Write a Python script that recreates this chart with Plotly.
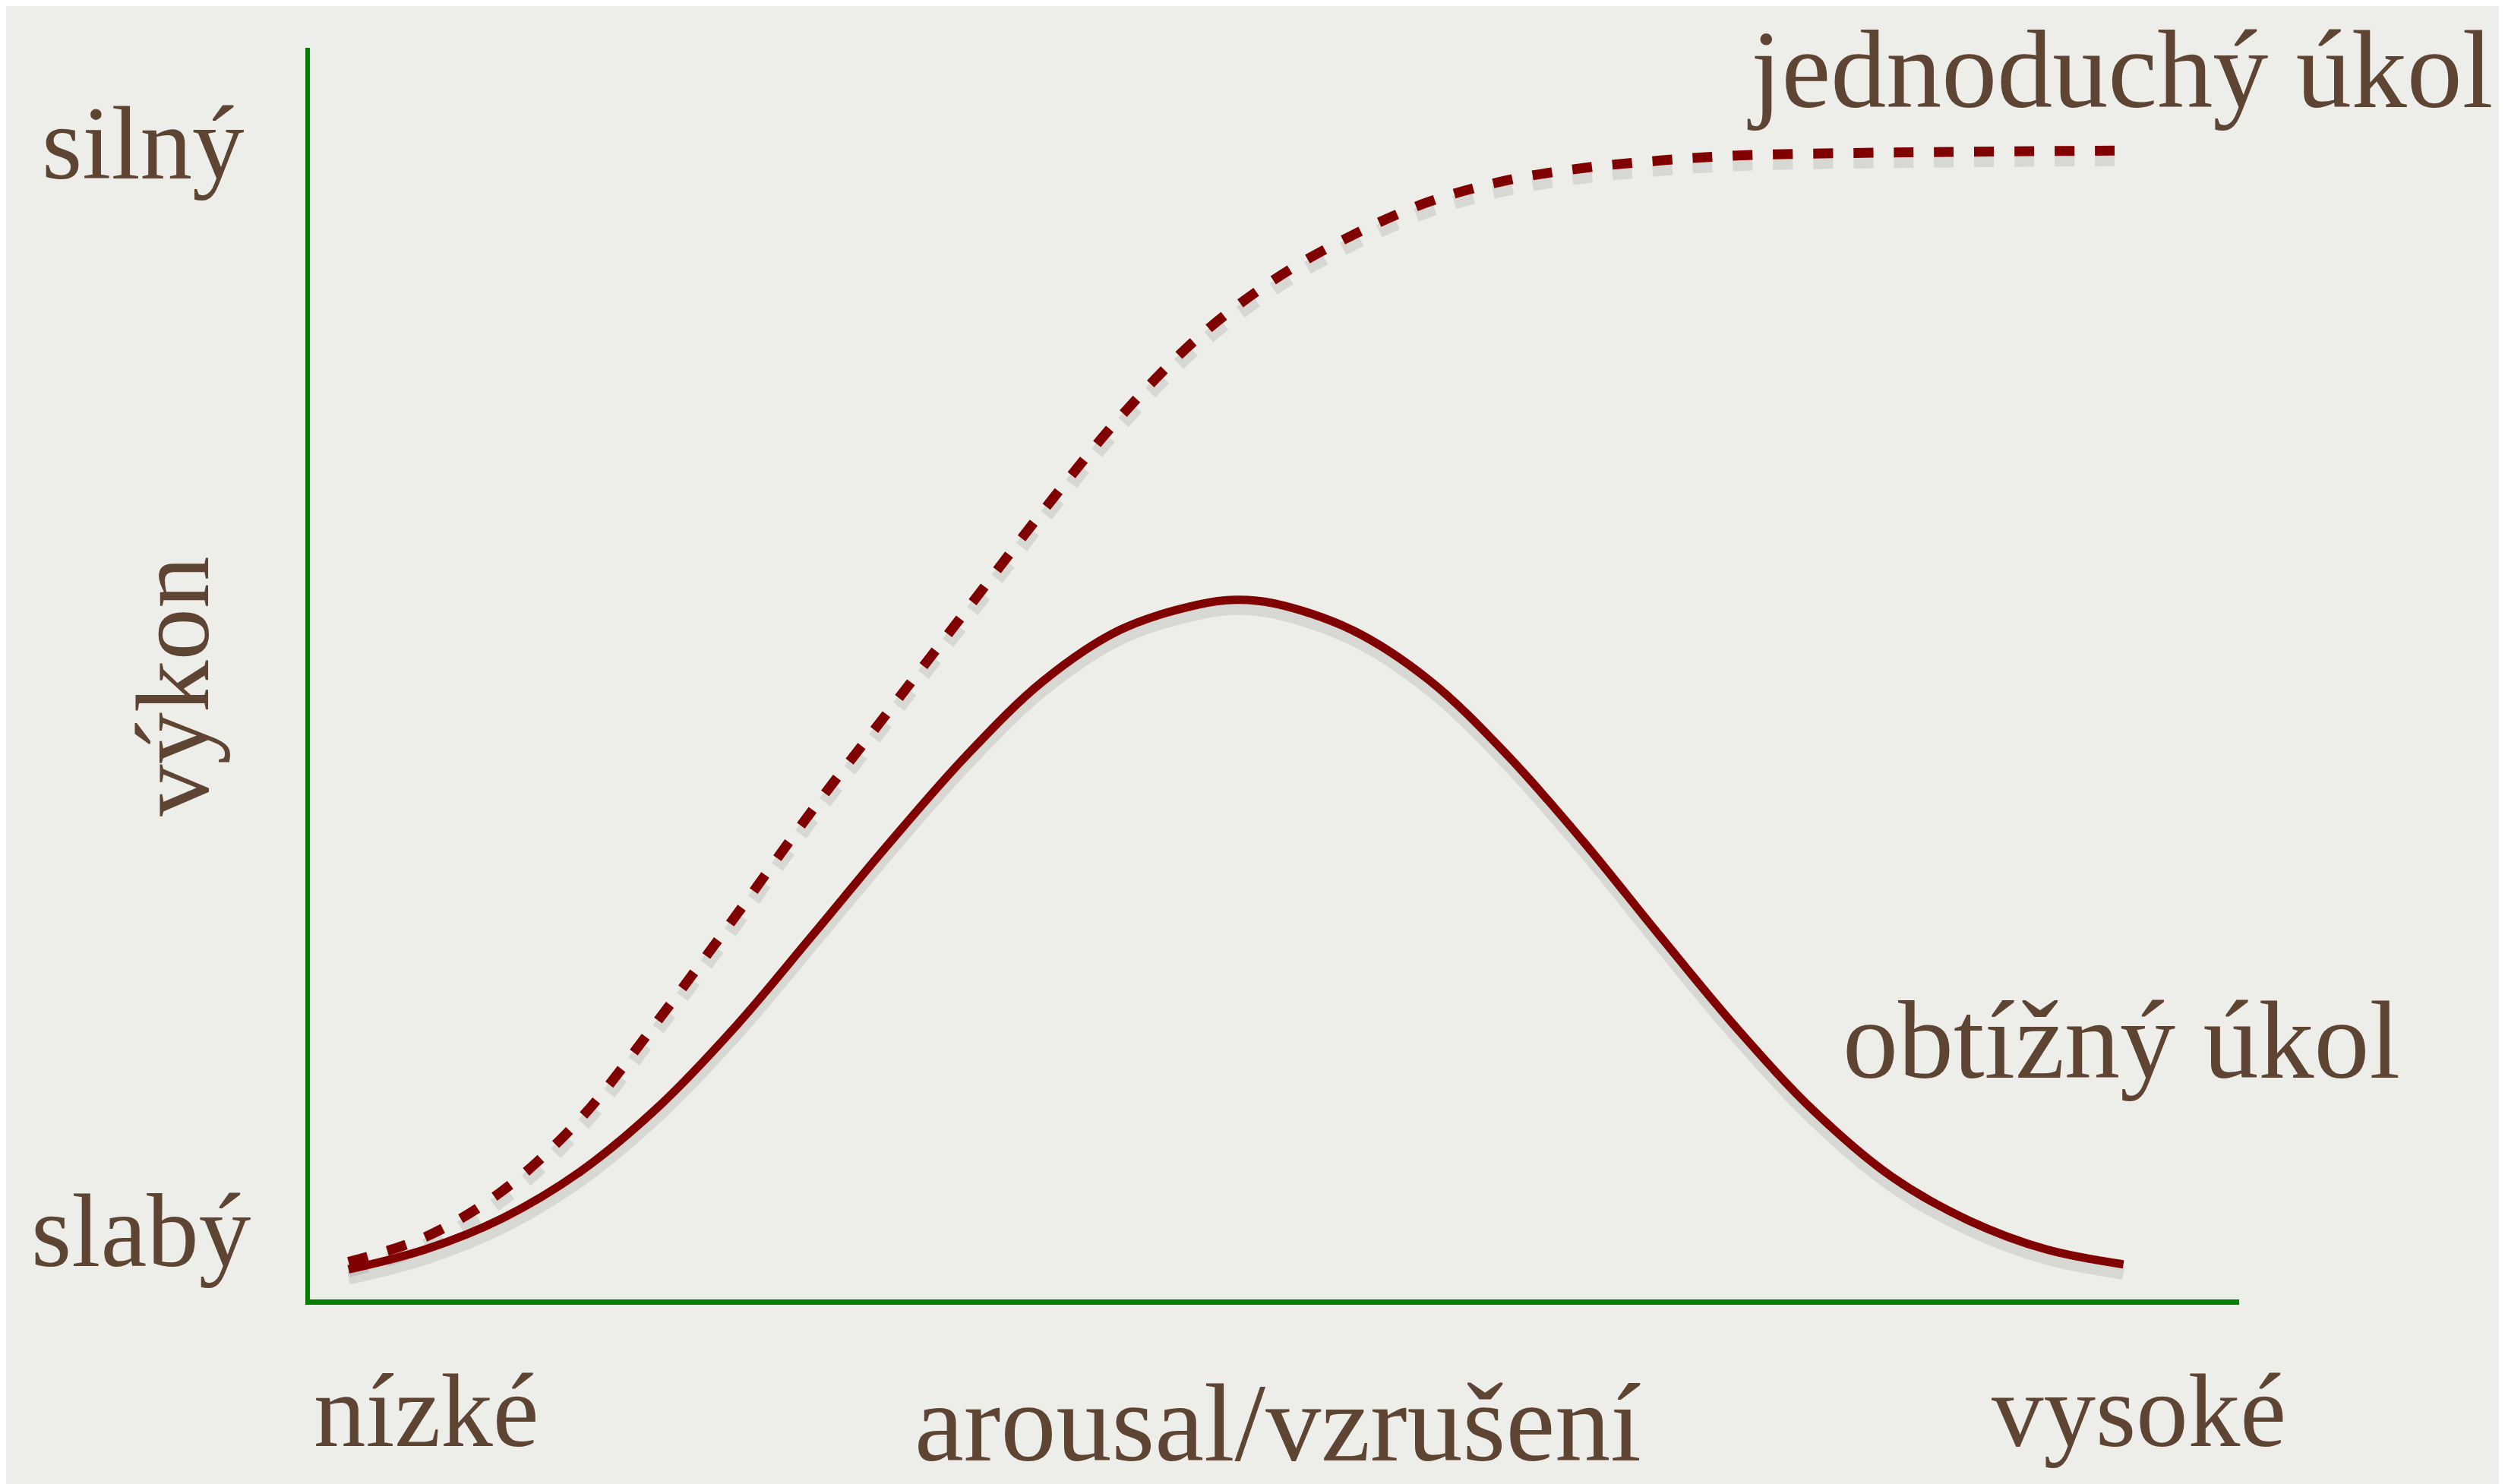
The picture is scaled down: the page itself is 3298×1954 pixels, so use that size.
import plotly.graph_objects as go

# ---- data ----
arousal_hard = [2, 6, 10, 14, 18, 22, 26, 30, 34, 38, 42, 46, 48, 50, 54, 58, 62, 66, 70, 74, 78, 82, 86, 90, 94]
perf_hard = [2.4, 4.0, 6.5, 10.2, 15.3, 21.7, 29.0, 36.4, 43.4, 49.4, 53.5, 55.5, 55.9, 55.6,
             53.5, 49.5, 43.6, 36.6, 29.0, 21.6, 15.0, 9.8, 6.3, 4.0, 2.8]

arousal_easy = [2, 6, 10, 14, 18, 22, 26, 30, 34, 38, 42, 46, 50, 54, 58, 62, 66, 70, 74, 80, 86, 94]
perf_easy = [3.0, 5.0, 8.7, 14.4, 22.2, 30.5, 39.0, 47.0, 55.0, 63.0, 70.5, 76.8, 81.5, 85.0,
             87.7, 89.4, 90.4, 91.0, 91.4, 91.6, 91.7, 91.8]

y_labels = ["slabý", "silný"]
x_labels = ["nízké", "vysoké"]
x_title = "arousal/vzrušení"
y_title = "výkon"
series_names = ["jednoduchý úkol", "obtížný úkol"]

# ---- style ----
W, H = 3298, 1954
L, R, T, B = 400, 358, 55, 251
MAROON = "#800000"
BROWN = "#5e4433"
GREEN = "#008000"
BG = "#ededea"
FONT = "Liberation Serif"
FS = 146      # long labels
FS_S = 137    # short end labels

pw, ph = W - L - R, H - T - B


def px(x):
    return (x - L) / pw


def py(y):
    return (H - B - y) / ph


shadow_dy = -0.7

fig = go.Figure()
# soft shadows
fig.add_trace(go.Scatter(x=arousal_easy, y=[v + shadow_dy for v in perf_easy], mode="lines",
                         line=dict(color="rgba(0,0,0,0.09)", width=18, dash="26px,27px", shape="spline"),
                         hoverinfo="skip", showlegend=False))
fig.add_trace(go.Scatter(x=arousal_hard, y=[v + shadow_dy for v in perf_hard], mode="lines",
                         line=dict(color="rgba(0,0,0,0.09)", width=17, shape="spline"),
                         hoverinfo="skip", showlegend=False))
# curves
fig.add_trace(go.Scatter(x=arousal_easy, y=perf_easy, mode="lines", name=series_names[0],
                         line=dict(color=MAROON, width=13, dash="26px,27px", shape="spline"),
                         showlegend=False))
fig.add_trace(go.Scatter(x=arousal_hard, y=perf_hard, mode="lines", name=series_names[1],
                         line=dict(color=MAROON, width=11, shape="spline"),
                         showlegend=False))

ann = [
    dict(text=y_labels[1], x=px(46), y=py(233), xanchor="left", yanchor="bottom", fs=FS_S),
    dict(text=y_labels[0], x=px(32), y=py(1665), xanchor="left", yanchor="bottom", fs=FS_S),
    dict(text=x_labels[0], x=px(404), y=py(1902), xanchor="left", yanchor="bottom", fs=FS_S),
    dict(text=x_labels[1], x=px(3003), y=py(1902), xanchor="right", yanchor="bottom", fs=FS_S),
    dict(text=x_title, x=px(1674), y=py(1922), xanchor="center", yanchor="bottom", fs=FS),
    dict(text=series_names[0], x=px(3275), y=py(140), xanchor="right", yanchor="bottom", fs=FS),
    dict(text=series_names[1], x=px(3153), y=py(1418), xanchor="right", yanchor="bottom", fs=FS),
    dict(text=y_title, x=px(297), y=py(896), xanchor="right", yanchor="middle", textangle=-90, fs=FS_S),
]
for a in ann:
    fs = a.pop("fs")
    a.update(xref="paper", yref="paper", showarrow=False, borderpad=0,
             font=dict(family=FONT, size=fs, color=BROWN))
    # shift so that the given y is roughly the text baseline
    if a.get("yanchor") == "bottom":
        a["yshift"] = -0.18 * fs

fig.update_layout(
    width=W, height=H,
    margin=dict(l=L, r=R, t=T, b=B),
    paper_bgcolor=BG, plot_bgcolor=BG,
    annotations=ann,
    xaxis=dict(range=[0, 100], showgrid=False, zeroline=False, showticklabels=False,
               ticks="", showline=True, linecolor=GREEN, linewidth=7, fixedrange=True),
    yaxis=dict(range=[0, 100], showgrid=False, zeroline=False, showticklabels=False,
               ticks="", showline=True, linecolor=GREEN, linewidth=6, fixedrange=True),
)

fig.write_html("out.html")
